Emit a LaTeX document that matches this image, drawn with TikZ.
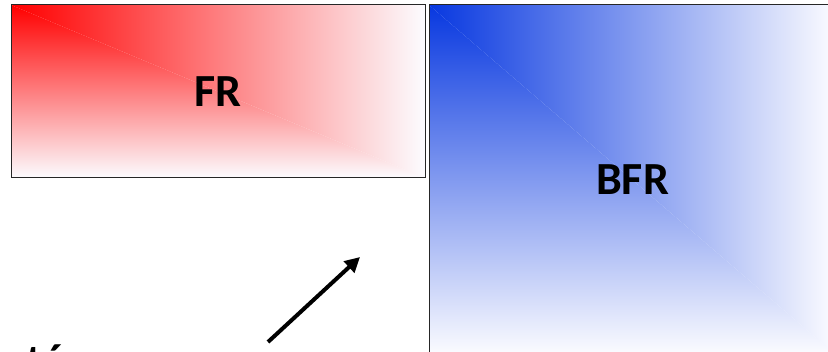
\documentclass[tikz,border=0pt]{standalone}
\usepackage{fontspec}
\setmainfont{Carlito}
\usetikzlibrary{arrows.meta, positioning}
\definecolor{frred}{HTML}{FF0000}
\definecolor{frredmid}{HTML}{FF7878}
\definecolor{bfrblue}{HTML}{0838E0}
\definecolor{bfrbluemid}{HTML}{6E8CF0}
\definecolor{fadewhite}{HTML}{FCFCFF}
\tikzset{
  x=1pt, y=-1pt,
  >={Triangle[length=15pt, width=15pt]},
  % corner gradient: colour fades from the top-left corner
  cornerfill/.style n args={2}{path picture={
      \shade[left color=#1, middle color=#2, right color=fadewhite]
        (path picture bounding box.north west) -- (path picture bounding box.north east)
        -- (path picture bounding box.south east) -- cycle;
      \shade[top color=#1, middle color=#2, bottom color=fadewhite]
        (path picture bounding box.north west) -- (path picture bounding box.south west)
        -- (path picture bounding box.south east) -- cycle;
  }},
  box/.style={rectangle, draw=black!85, line width=1pt, inner sep=0pt,
              font=\fontsize{46}{50}\selectfont\bfseries},
  boxr/.style={box, cornerfill={frred}{frredmid}},
  boxb/.style={box, cornerfill={bfrblue}{bfrbluemid}},
  flow/.style={->, line width=4pt, draw=black},
  lbl/.style={font=\fontsize{46}{50}\selectfont\bfseries, inner sep=0pt},
}

\begin{document}
\begin{tikzpicture}
  \clip (0,0) rectangle (828,352);
  \fill[white] (0,0) rectangle (828,352);
  \node[boxr, minimum width=414pt, minimum height=173pt] (fr) at (218,91.5) {FR};
  \node[boxb, minimum width=407pt, minimum height=350pt, right=3pt of fr.north east, anchor=north west] (bfr) {BFR};
  \node[lbl, anchor=base west] (tail) at (2,377) {ntés};
  \coordinate (from) at (268,342);
  \coordinate (to) at (360,257);
  \draw[flow] (from) -- (to);
\end{tikzpicture}
\end{document}
